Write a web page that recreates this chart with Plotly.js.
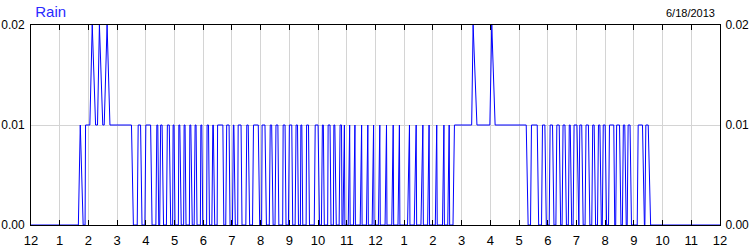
<!DOCTYPE html>
<html>
<head>
<meta charset="utf-8">
<script src="https://cdn.plot.ly/plotly-3.0.1.min.js"></script>
<style>html,body{margin:0;padding:0;background:#fff;}#chart{width:750px;height:250px;}</style>
</head>
<body>
<div id="chart"></div>
<script>
// Rain readings, 6/18/2013. Times are minutes after midnight, values in inches.
const earlyTimes = [0,99,103,109,113,114,123,128,135,139,143,150,153,159,165,210,214,222];
const earlyRain  = [0,0,0.01,0,0,0.01,0.01,0.02,0.01,0.01,0.02,0.01,0.01,0.02,0.01,0.01,0,0];

const morningTimes = [
  224,229,232,238, 240,250,253,261, 263,265,267,269, 271,274,277,283,
  285,289,292,296, 297,299,301,308, 309,311,314,319, 320,322,324,331,
  332,334,337,341, 343,345,347,354, 355,357,359,367, 368,371,373,378,
  380,381,384,389, 390,401,403,407, 409,414,416,421, 423,424,427,432,
  433,439,441,449, 451,454,457,463, 465,475,478,482, 483,489,492,498,
  500,503,506,510, 512,516,518,526, 527,531,533,538, 540,545,547,552,
  554,557,559,563, 564,566,568,575, 576,580,582,592, 594,600,603,607,
  609,611,613,620, 621,625,627,632, 633,635,638,644, 646,649,650,652
];
const morningRain = [
  0.01,0.01,0,0, 0.01,0.01,0,0, 0.01,0.01,0,0, 0.01,0.01,0,0,
  0.01,0.01,0,0, 0.01,0.01,0,0, 0.01,0.01,0,0, 0.01,0.01,0,0,
  0.01,0.01,0,0, 0.01,0.01,0,0, 0.01,0.01,0,0, 0.01,0.01,0,0,
  0.01,0.01,0,0, 0.01,0.01,0,0, 0.01,0.01,0,0, 0.01,0.01,0,0,
  0.01,0.01,0,0, 0.01,0.01,0,0, 0.01,0.01,0,0, 0.01,0.01,0,0,
  0.01,0.01,0,0, 0.01,0.01,0,0, 0.01,0.01,0,0, 0.01,0.01,0,0,
  0.01,0.01,0,0, 0.01,0.01,0,0, 0.01,0.01,0,0, 0.01,0.01,0,0,
  0.01,0.01,0,0, 0.01,0.01,0,0, 0.01,0.01,0,0, 0.01,0.01,0,0
];

const noonTimes = [
  655,656,663, 666,667,674, 677,678,688, 691,692,701, 704,705,713, 716,717,726,
  729,730,740, 743,744,754, 757,758,767, 770,771,787, 791,792,801, 805,806,815,
  819,820,829, 832,833,845, 848,849,860, 863,864,871, 874,875,882
];
const noonRain = [
  0.01,0,0, 0.01,0,0, 0.01,0,0, 0.01,0,0, 0.01,0,0, 0.01,0,0,
  0.01,0,0, 0.01,0,0, 0.01,0,0, 0.01,0,0, 0.01,0,0, 0.01,0,0,
  0.01,0,0, 0.01,0,0, 0.01,0,0, 0.01,0,0, 0.01,0,0
];

const afternoonTimes = [885,921,924,932,959,963,970,1035,1039,1044];
const afternoonRain  = [0.01,0.01,0.02,0.01,0.01,0.02,0.01,0.01,0,0];

const eveningTimes = [
  1046,1058,1061,1067, 1069,1074,1077,1083, 1085,1090,1093,1097, 1099,1104,1107,1110,
  1112,1116,1119,1123, 1125,1127,1130,1133, 1135,1141,1144,1145, 1147,1151,1154,1158,
  1160,1165,1168,1172, 1174,1177,1180,1184, 1186,1189,1192,1194, 1196,1200,1203,1207,
  1209,1218,1220,1222, 1224,1230,1233,1236, 1238,1241,1244,1246, 1248,1252,1255,1267,
  1269,1278,1282,1283, 1285,1290,1295,1440
];
const eveningRain = [
  0.01,0.01,0,0, 0.01,0.01,0,0, 0.01,0.01,0,0, 0.01,0.01,0,0,
  0.01,0.01,0,0, 0.01,0.01,0,0, 0.01,0.01,0,0, 0.01,0.01,0,0,
  0.01,0.01,0,0, 0.01,0.01,0,0, 0.01,0.01,0,0, 0.01,0.01,0,0,
  0.01,0.01,0,0, 0.01,0.01,0,0, 0.01,0.01,0,0, 0.01,0.01,0,0,
  0.01,0.01,0,0, 0.01,0.01,0,0
];

const hourTicks = [0,60,120,180,240,300,360,420,480,540,600,660,720,780,840,900,960,1020,1080,1140,1200,1260,1320,1380,1440];
const hourLabels = ['12','1','2','3','4','5','6','7','8','9','10','11','12','1','2','3','4','5','6','7','8','9','10','11','12'];
const rainTicks = [0, 0.01, 0.02];
const rainLabels = ['0.00', '0.01', '0.02'];
const chartTitle = 'Rain';
const chartDate = '6/18/2013';

const minutes = [].concat(earlyTimes, morningTimes, noonTimes, afternoonTimes, eveningTimes);
const rain = [].concat(earlyRain, morningRain, noonRain, afternoonRain, eveningRain);

const font = 'Liberation Sans, Arial, sans-serif';
const traces = [
  {x: minutes, y: rain, type: 'scatter', mode: 'lines', line: {color: '#0000ff', width: 1}, hoverinfo: 'skip', showlegend: false},
  {x: [minutes[0]], y: [rain[0]], type: 'scatter', mode: 'lines', yaxis: 'y2', opacity: 0, hoverinfo: 'skip', showlegend: false}
];
const layout = {
  width: 750, height: 250,
  margin: {l: 31, r: 30, t: 25, b: 25, pad: 0},
  paper_bgcolor: '#ffffff', plot_bgcolor: '#ffffff',
  showlegend: false,
  title: {text: chartTitle, font: {family: font, size: 15, color: '#2a2aff'}, xref: 'container', yref: 'container', x: 0.047, xanchor: 'left', y: 0.952, yanchor: 'middle'},
  xaxis: {
    range: [0, 1440], tickmode: 'array', tickvals: hourTicks, ticktext: hourLabels,
    ticks: 'inside', ticklen: 5, tickcolor: '#000', tickwidth: 1,
    showline: true, linecolor: '#000', linewidth: 1, mirror: 'ticks',
    showgrid: true, gridcolor: '#d4d4d4', gridwidth: 1, zeroline: false,
    tickfont: {family: font, size: 13, color: '#000'}, ticklabelstandoff: 3, fixedrange: true
  },
  yaxis: {
    range: [0, 0.02], tickmode: 'array', tickvals: rainTicks, ticktext: rainLabels,
    ticks: 'outside', ticklen: 3, tickcolor: 'rgba(0,0,0,0)',
    showline: true, linecolor: '#000', linewidth: 1, mirror: true,
    showgrid: true, gridcolor: '#d4d4d4', zeroline: false,
    tickfont: {family: font, size: 12, color: '#000'}, fixedrange: true
  },
  yaxis2: {
    overlaying: 'y', side: 'right', range: [0, 0.02], tickmode: 'array', tickvals: rainTicks, ticktext: rainLabels,
    ticks: 'outside', ticklen: 2, tickcolor: 'rgba(0,0,0,0)',
    showline: false, showgrid: false, zeroline: false,
    tickfont: {family: font, size: 12, color: '#000'}, fixedrange: true
  },
  annotations: [
    {text: chartDate, xref: 'paper', yref: 'paper', x: 0.995, y: 1.0625, xanchor: 'right', yanchor: 'middle', showarrow: false, font: {family: font, size: 11, color: '#000'}}
  ]
};
Plotly.newPlot('chart', traces, layout, {staticPlot: true, displayModeBar: false});
</script>
</body>
</html>
